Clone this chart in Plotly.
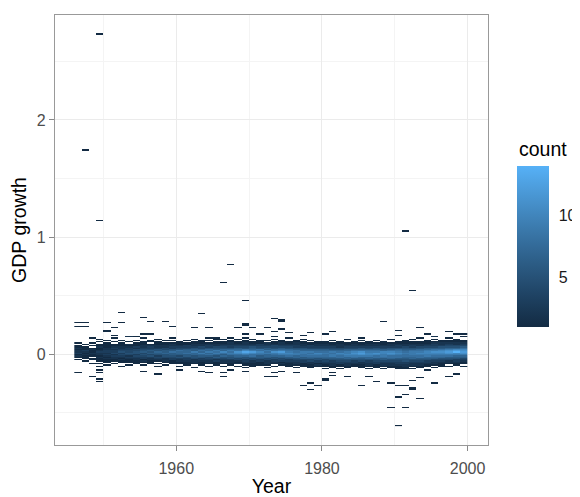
import math
import plotly.graph_objects as go

# ---------------- data ----------------
years = list(range(1946, 2000))  # year bins [year, year+1)

# bin grid for GDP growth
y_start = -0.616
y_step = 0.011
band_first = -0.132  # lower edge of first band bin

# counts per year for the dense band: bins from -0.132 upward in 0.011 steps (30 bins)
band_counts = [
    [0,0,0,0,0,0,0,1,0,1,2,1,3,2,2,1,2,1,1,0,1,0,0,0,0,0,0,0,0,0],  # 1946
    [0,0,0,0,0,0,1,0,1,1,1,2,1,2,3,1,1,1,0,1,0,0,0,0,0,0,0,0,0,0],  # 1947
    [0,0,0,0,1,0,0,1,1,0,1,1,2,1,1,2,1,0,1,0,1,0,0,0,0,0,0,0,0,0],  # 1948
    [0,0,1,0,1,0,1,1,1,2,1,2,2,3,2,1,1,2,1,1,0,1,0,1,0,0,0,0,0,0],  # 1949
    [0,0,0,1,0,1,1,1,2,1,2,3,2,3,3,2,2,1,1,1,1,0,1,0,0,0,0,0,0,0],  # 1950
    [0,0,0,0,1,0,1,1,2,2,3,2,4,3,3,2,3,2,1,1,0,1,0,0,0,0,1,0,0,0],  # 1951
    [0,0,1,0,0,1,1,2,1,2,3,4,3,5,4,3,2,2,1,1,1,0,1,0,0,0,0,0,0,0],  # 1952
    [0,0,0,1,0,1,1,1,2,3,2,4,5,4,4,3,3,2,1,2,0,1,0,0,0,1,0,0,0,0],  # 1953
    [0,0,0,0,1,1,1,2,2,3,4,3,5,5,4,4,2,3,1,1,1,0,1,0,0,0,0,0,0,0],  # 1954
    [0,0,0,1,0,1,2,1,3,3,4,5,4,6,5,4,3,2,2,1,1,1,0,0,1,0,0,0,0,0],  # 1955
    [0,0,0,0,1,1,1,2,2,3,5,4,6,5,6,4,3,3,2,1,0,1,1,0,0,0,0,0,0,0],  # 1956
    [0,0,1,0,1,0,1,2,3,4,3,5,6,7,5,5,3,2,2,1,1,1,0,1,0,0,0,0,0,0],  # 1957
    [0,0,0,1,0,1,2,2,2,4,5,5,7,6,6,4,4,2,2,1,1,0,1,0,0,0,0,0,0,0],  # 1958
    [0,0,0,0,1,1,1,3,3,4,5,6,6,8,6,5,3,3,2,2,1,0,1,0,1,0,0,0,0,0],  # 1959
    [0,0,1,0,1,1,2,2,3,5,4,6,7,7,8,5,4,3,2,1,1,1,0,0,0,0,0,0,0,0],  # 1960
    [0,0,0,1,1,1,2,3,3,4,6,6,8,7,7,6,4,3,3,1,1,0,1,0,0,0,0,0,0,0],  # 1961
    [0,1,0,0,1,2,2,2,4,5,5,7,7,9,6,6,5,3,2,2,1,1,0,1,0,0,0,0,0,0],  # 1962
    [0,0,0,1,1,1,2,3,3,5,6,7,9,7,8,6,4,4,2,2,1,1,1,0,0,0,0,0,0,0],  # 1963
    [0,0,1,0,1,2,2,3,4,4,6,8,7,9,7,7,5,3,3,2,1,0,1,0,1,0,0,0,0,0],  # 1964
    [0,0,0,1,1,1,3,2,4,6,5,7,9,8,9,6,5,4,2,2,1,1,0,1,0,0,0,0,0,0],  # 1965
    [0,0,1,0,1,2,2,3,4,5,7,6,8,10,7,7,5,4,3,2,1,1,0,1,0,0,0,0,0,0],  # 1966
    [0,0,0,1,1,2,2,3,5,5,6,8,9,8,9,7,5,3,3,2,2,1,1,0,0,0,0,0,0,0],  # 1967
    [0,0,1,0,2,1,2,4,4,6,7,8,10,11,8,7,6,4,3,2,1,1,0,1,0,0,0,0,0,0],  # 1968
    [0,0,0,1,1,2,3,3,5,5,7,9,11,13,10,8,5,4,3,2,2,1,1,0,1,0,0,0,0,0],  # 1969
    [0,0,1,1,1,2,2,4,4,6,8,8,10,12,9,7,6,5,3,2,1,1,0,1,0,0,0,0,0,0],  # 1970
    [0,0,0,1,1,1,3,3,5,6,6,8,9,10,8,8,5,4,3,3,1,1,1,0,0,0,0,0,0,0],  # 1971
    [0,1,0,1,2,2,2,4,4,6,7,7,9,8,9,6,6,4,3,2,2,0,1,0,0,0,0,0,0,0],  # 1972
    [0,0,1,0,1,2,3,3,5,5,7,8,9,11,8,7,5,4,4,2,1,1,0,1,0,1,0,0,0,0],  # 1973
    [0,0,0,1,2,1,3,4,4,6,7,9,10,12,9,7,6,4,3,2,2,1,1,0,0,0,0,0,0,0],  # 1974
    [0,0,1,1,1,2,3,3,5,6,8,9,10,9,8,7,5,4,3,2,1,1,0,0,1,0,0,0,0,0],  # 1975
    [0,1,0,1,2,2,3,4,5,7,7,9,9,8,8,6,5,3,3,2,2,1,1,0,0,0,0,0,0,0],  # 1976
    [0,0,1,1,1,3,3,4,6,6,8,8,9,9,7,6,5,3,2,2,1,1,0,1,0,0,0,0,0,0],  # 1977
    [0,1,1,1,2,2,4,4,6,7,8,9,8,9,7,6,4,3,3,1,1,0,1,0,0,0,0,0,0,0],  # 1978
    [0,0,1,2,1,3,3,5,5,7,8,9,10,8,7,6,4,3,2,2,1,1,0,0,0,0,0,0,0,0],  # 1979
    [1,0,1,1,2,3,4,4,6,7,8,8,9,8,7,6,4,3,2,2,1,1,0,0,0,0,0,0,0,0],  # 1980
    [0,1,1,2,2,3,3,5,6,7,9,9,8,9,7,5,4,3,2,1,1,0,1,0,0,0,0,0,0,0],  # 1981
    [1,0,1,1,3,3,4,5,6,8,8,9,10,8,7,5,4,2,2,2,1,1,0,0,0,0,0,0,0,0],  # 1982
    [0,1,1,2,2,3,4,5,7,7,9,10,9,9,7,6,4,3,2,1,1,0,0,1,0,0,0,0,0,0],  # 1983
    [0,0,1,1,2,3,3,5,6,8,9,10,11,10,8,6,4,3,2,2,1,1,0,0,0,0,0,0,0,0],  # 1984
    [0,1,1,1,2,2,4,5,6,7,9,11,12,11,8,6,5,3,2,1,1,0,1,0,0,0,0,0,0,0],  # 1985
    [1,0,1,2,2,3,3,5,7,7,9,10,10,9,8,6,4,3,2,2,1,1,0,0,0,0,0,0,0,0],  # 1986
    [0,1,1,1,3,3,4,5,6,8,8,10,11,9,8,6,5,3,2,2,1,0,1,0,0,0,0,0,0,0],  # 1987
    [1,0,1,2,2,3,4,6,6,8,9,9,10,10,7,6,4,3,2,1,1,1,0,0,0,0,0,0,0,0],  # 1988
    [0,1,1,2,2,3,4,5,7,8,8,10,11,10,8,6,5,3,2,2,1,0,0,1,0,0,0,0,0,0],  # 1989
    [1,1,1,2,3,3,4,5,6,8,8,9,10,9,8,7,5,3,3,2,1,1,0,0,0,0,0,0,0,0],  # 1990
    [1,1,2,2,3,3,5,5,6,7,8,8,9,8,7,6,5,4,2,2,1,1,1,0,0,0,0,0,0,0],  # 1991
    [1,0,1,2,2,3,4,5,7,7,8,9,9,9,8,6,5,3,3,2,1,1,0,1,0,0,0,0,0,0],  # 1992
    [0,1,1,2,2,3,4,5,6,8,8,9,10,9,8,7,5,4,2,2,1,1,0,0,1,0,0,0,0,0],  # 1993
    [0,0,1,1,2,3,3,5,6,7,9,9,10,10,9,7,6,4,3,2,1,1,1,0,0,0,0,0,0,0],  # 1994
    [0,1,0,1,2,2,3,4,6,7,8,9,10,11,9,8,6,4,3,3,2,1,0,1,0,1,0,0,0,0],  # 1995
    [0,0,1,1,1,2,3,4,5,7,8,9,10,11,10,8,6,5,3,2,2,1,1,0,0,0,0,0,0,0],  # 1996
    [0,0,1,0,1,2,2,4,5,6,8,9,11,12,11,9,7,5,4,3,2,1,1,0,1,0,0,0,0,0],  # 1997
    [0,0,0,1,1,2,3,3,5,6,7,9,10,14,12,10,7,5,4,2,2,1,1,1,0,0,0,0,0,0],  # 1998
    [0,0,1,0,1,1,2,3,4,6,7,9,11,12,11,10,8,6,4,3,2,1,1,0,0,1,0,0,0,0],  # 1999
]

# isolated observations outside the dense band
outlier_years = [
    1949, 1947, 1949, 1991, 1967, 1966, 1969, 1992, 1952, 1963, 1955, 1973, 1974, 1974,
    1946, 1946, 1947, 1947, 1950, 1952, 1956, 1958, 1950, 1950, 1951, 1959, 1962, 1964,
    1968, 1969, 1969, 1970, 1972, 1974, 1973, 1981, 1988, 1990, 1993, 1997,
    1955, 1956, 1969, 1971, 1980, 1994, 1998, 1999, 1978, 1975, 1965, 1967, 1948, 1951,
    1953, 1954, 1977, 1985, 1990, 1995,
    1946, 1948, 1949, 1949, 1949, 1949, 1955, 1957, 1960, 1963, 1964, 1966, 1966, 1967,
    1969, 1969, 1972, 1973, 1973, 1974, 1976, 1977, 1978, 1978, 1979, 1980, 1980, 1981,
    1981, 1983, 1985, 1986, 1987, 1989, 1990, 1991, 1992, 1992, 1990, 1991, 1993, 1989,
    1991, 1990, 1992, 1993, 1994, 1995, 1997, 1998,
]
outlier_values = [
    2.728, 1.74, 1.143, 1.05, 0.765, 0.61, 0.455, 0.54, 0.36, 0.347, 0.313, 0.30, 0.29, 0.276,
    0.267, 0.239, 0.267, 0.239, 0.267, 0.267, 0.276, 0.276, 0.19, 0.20, 0.22, 0.233, 0.22, 0.22,
    0.22, 0.256, 0.245, 0.22, 0.22, 0.21, 0.19, 0.19, 0.276, 0.205, 0.22, 0.19,
    0.17, 0.17, 0.17, 0.17, 0.17, 0.17, 0.17, 0.17, 0.185, 0.18, 0.134, 0.134, 0.136, 0.136,
    0.148, 0.148, 0.16, 0.136, 0.16, 0.15,
    -0.16, -0.188, -0.137, -0.165, -0.21, -0.236, -0.15, -0.17, -0.137, -0.15, -0.165, -0.16, -0.19, -0.137,
    -0.12, -0.15, -0.196, -0.165, -0.19, -0.15, -0.16, -0.27, -0.245, -0.307, -0.265, -0.228, -0.218, -0.16,
    -0.18, -0.196, -0.27, -0.196, -0.24, -0.245, -0.27, -0.27, -0.30, -0.29, -0.364, -0.35, -0.375, -0.46,
    -0.46, -0.61, -0.23, -0.20, -0.137, -0.245, -0.196, -0.17,
]

count_ticks = [5, 10]
x_ticks = [1960, 1980, 2000]
x_minor = [1950, 1970, 1990]
y_ticks = [0, 1, 2]
y_minor = [-0.5, 0.5, 1.5, 2.5]

# ---------------- build the count grid ----------------
y_top = 2.74
n_rows = int(math.ceil((y_top - y_start) / y_step))
band_offset = int(round((band_first - y_start) / y_step))
grid = [[0 for _ in years] for _ in range(n_rows)]
for j, col in enumerate(band_counts):
    for k, c in enumerate(col):
        grid[band_offset + k][j] += c
for yr, v in zip(outlier_years, outlier_values):
    i = int(math.floor((v - y_start) / y_step))
    grid[i][years.index(yr)] += 1
z = [[(c if c > 0 else None) for c in row] for row in grid]
x_centers = [yr + 0.5 for yr in years]
y_centers = [y_start + y_step * (i + 0.5) for i in range(n_rows)]
zmin = 1
zmax = max(max(c for c in row) for row in grid)

# ---------------- ggplot-like Lab gradient ----------------
def _lin(c):
    c = c / 255.0
    return c / 12.92 if c <= 0.04045 else ((c + 0.055) / 1.055) ** 2.4

def _unlin(c):
    c = 12.92 * c if c <= 0.0031308 else 1.055 * c ** (1 / 2.4) - 0.055
    return max(0, min(255, round(c * 255)))

def hex_to_lab(h):
    r, g, b = (_lin(int(h[i:i + 2], 16)) for i in (1, 3, 5))
    X = (0.4124 * r + 0.3576 * g + 0.1805 * b) / 0.95047
    Y = (0.2126 * r + 0.7152 * g + 0.0722 * b)
    Z = (0.0193 * r + 0.1192 * g + 0.9505 * b) / 1.08883
    f = lambda t: t ** (1 / 3) if t > 0.008856 else 7.787 * t + 16 / 116
    fx, fy, fz = f(X), f(Y), f(Z)
    return 116 * fy - 16, 500 * (fx - fy), 200 * (fy - fz)

def lab_to_hex(L, a, b):
    fy = (L + 16) / 116
    fx = fy + a / 500
    fz = fy - b / 200
    finv = lambda t: t ** 3 if t ** 3 > 0.008856 else (t - 16 / 116) / 7.787
    X, Y, Z = finv(fx) * 0.95047, finv(fy), finv(fz) * 1.08883
    r = 3.2406 * X - 1.5372 * Y - 0.4986 * Z
    g = -0.9689 * X + 1.8758 * Y + 0.0415 * Z
    bb = 0.0557 * X - 0.2040 * Y + 1.0570 * Z
    return "#%02x%02x%02x" % (_unlin(r), _unlin(g), _unlin(bb))

lo, hi = hex_to_lab("#132B43"), hex_to_lab("#56B1F7")
colorscale = []
for s in range(11):
    t = s / 10
    colorscale.append([t, lab_to_hex(*(lo[i] + (hi[i] - lo[i]) * t for i in range(3)))])

# ---------------- figure geometry (page has an 8px body margin) ----------------
W, H = 572, 489
ml, mt = 47, 7
pw, ph = 433, 430
mr, mb = W - ml - pw, H - mt - ph
font_family = "Liberation Sans, Arial, sans-serif"

cb_left_px, cb_thick, cb_len, cb_bottom_px = 509, 32, 161, 318.7
cb_x = (cb_left_px - ml) / pw
cb_x1 = (cb_left_px + cb_thick - ml) / pw
cb_y0 = (mt + ph - cb_bottom_px) / ph

fig = go.Figure(go.Heatmap(
    x=x_centers, y=y_centers, z=z,
    zmin=zmin, zmax=zmax, colorscale=colorscale, zsmooth=False,
    hoverongaps=False,
    colorbar=dict(
        thickness=cb_thick, len=cb_len, lenmode="pixels",
        x=cb_x, xanchor="left", y=cb_y0, yanchor="bottom",
        outlinewidth=0, xpad=0, ypad=0,
        tickmode="array", tickvals=count_ticks,
        ticks="outside", tickcolor="rgba(0,0,0,0)", ticklen=7,
        tickfont=dict(size=16, color="#1a1a1a", family=font_family),
    ),
))

# white tick marks across both edges of the colour bar (as in ggplot)
mark_w = 6 / pw
for v in count_ticks:
    yv = cb_y0 + (v - zmin) / (zmax - zmin) * cb_len / ph
    for xa, xb in ((cb_x, cb_x + mark_w), (cb_x1 - mark_w, cb_x1)):
        fig.add_shape(type="line", xref="paper", yref="paper", x0=xa, x1=xb, y0=yv, y1=yv,
                      line=dict(color="white", width=1.2), layer="above")

fig.add_annotation(text="count", xref="paper", yref="paper",
                   x=cb_x, xanchor="left", y=(mt + ph - 141) / ph, yanchor="middle",
                   showarrow=False, font=dict(size=19.5, color="#000000", family=font_family))

grid_major = "#EBEBEB"
grid_minor = "#F4F4F4"
fig.update_layout(
    width=W, height=H,
    margin=dict(l=ml, r=mr, t=mt, b=mb, autoexpand=False),
    paper_bgcolor="white", plot_bgcolor="white",
    font=dict(family=font_family),
    xaxis=dict(
        range=[1943.35, 2002.8], tickmode="array", tickvals=x_ticks,
        showgrid=True, gridcolor=grid_major, gridwidth=1.1, zeroline=False,
        minor=dict(tickmode="array", tickvals=x_minor, showgrid=True,
                   gridcolor=grid_minor, gridwidth=0.6, ticks=""),
        ticks="outside", ticklen=5, tickcolor="#888888", tickwidth=1,
        ticklabelstandoff=4,
        tickfont=dict(size=16, color="#4D4D4D"),
        showline=True, mirror=True, linecolor="#999999", linewidth=1.1,
        title=dict(text="Year", font=dict(size=19.5, color="#000000"), standoff=8),
        automargin=False,
    ),
    yaxis=dict(
        range=[-0.776, 2.896], tickmode="array", tickvals=y_ticks,
        showgrid=True, gridcolor=grid_major, gridwidth=1.1, zeroline=False,
        minor=dict(tickmode="array", tickvals=y_minor, showgrid=True,
                   gridcolor=grid_minor, gridwidth=0.6, ticks=""),
        ticks="outside", ticklen=5, tickcolor="#888888", tickwidth=1,
        tickfont=dict(size=16, color="#4D4D4D"),
        showline=True, mirror=True, linecolor="#999999", linewidth=1.1,
        title=dict(text="GDP growth", font=dict(size=19.5, color="#000000"), standoff=6),
        automargin=False,
    ),
)

fig.write_html("out.html")
